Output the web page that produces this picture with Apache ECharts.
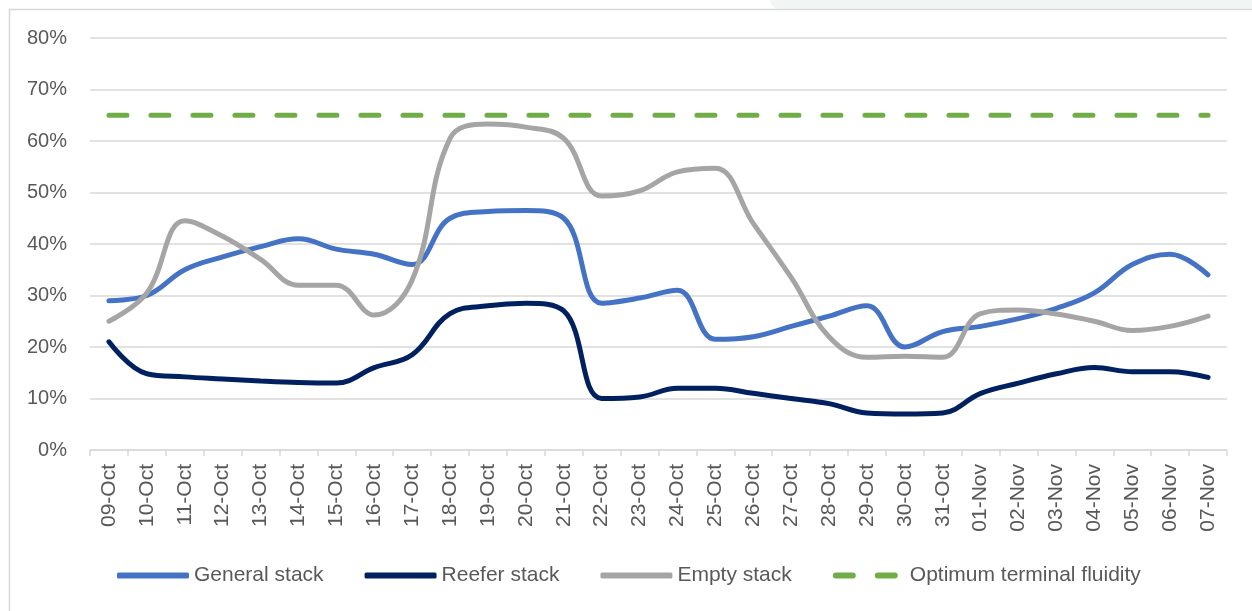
<!DOCTYPE html>
<html>
<head>
<meta charset="utf-8">
<script src="https://cdn.jsdelivr.net/npm/echarts@6/dist/echarts.min.js"></script>
<style>
  html, body { margin: 0; padding: 0; background: #fff; }
  #main { width: 1252px; height: 611px; }
</style>
</head>
<body>
<div id="main"></div>
<script>
const categories = ['09-Oct', '10-Oct', '11-Oct', '12-Oct', '13-Oct', '14-Oct', '15-Oct', '16-Oct', '17-Oct', '18-Oct',
  '19-Oct', '20-Oct', '21-Oct', '22-Oct', '23-Oct', '24-Oct', '25-Oct', '26-Oct', '27-Oct', '28-Oct',
  '29-Oct', '30-Oct', '31-Oct', '01-Nov', '02-Nov', '03-Nov', '04-Nov', '05-Nov', '06-Nov', '07-Nov']

// values in %
const generalStack = [29, 30, 35, 37.5, 39.5, 41, 39, 38, 36, 45,
  46.3, 46.5, 45, 28.5, 29.5, 31, 21.5, 22, 24, 26,
  28, 20, 23, 24, 25.5, 27.5, 30.5, 36, 38, 34]
const reeferStack = [21, 14.8, 14.2, 13.8, 13.4, 13.1, 13, 16, 18.5, 26.5,
  28, 28.5, 27, 10, 10.3, 12, 12, 11, 10, 9,
  7.2, 7, 7.2, 11, 13, 14.8, 16, 15.2, 15.2, 14.1]
const emptyStack = [25, 30.5, 44.5, 41.5, 37, 32, 32, 26.2, 33, 60.5,
  63.3, 62.7, 60.5, 49.3, 50.3, 54, 54.7, 44, 33.5, 22,
  18, 18.2, 18, 26.5, 27.2, 26.4, 25, 23.2, 24, 26]
const optimumFluidity = categories.map(() => 65)

const chart = echarts.init(document.getElementById('main'))

const labelFont = 'Liberation Sans, Arial, sans-serif'
const textColor = '#595959'
const gridColor = '#D9D9D9'

// two rounded dashes for the dashed legend entry (tiny rect at 72 keeps the box width)
const dashIcon = 'path://M3,0h17a3,3 0 0 1 0,6h-17a3,3 0 0 1 0,-6zM45,0h17a3,3 0 0 1 0,6h-17a3,3 0 0 1 0,-6zM72,0h0.01v6h-0.01z'

chart.setOption({
  animation: false,
  graphic: [{
    type: 'rect',
    shape: { x: 770, y: -10, width: 520, height: 19, r: 10 },
    style: { fill: '#F3F4F4' },
    silent: true
  }, {
    type: 'rect',
    shape: { x: 9.5, y: 9.5, width: 1300, height: 700 },
    style: { fill: 'none', stroke: gridColor, lineWidth: 1.5 },
    silent: true
  }],
  grid: {
    left: 90,
    right: 25,
    top: 38,
    bottom: 161
  },
  legend: {
    bottom: 20,
    left: 112,
    itemWidth: 72,
    itemHeight: 6,
    itemGap: 41,
    textStyle: {
      color: textColor,
      fontFamily: labelFont,
      fontSize: 21
    },
    data: [
      { name: 'General stack', icon: 'roundRect' },
      { name: 'Reefer stack', icon: 'roundRect' },
      { name: 'Empty stack', icon: 'roundRect' },
      { name: 'Optimum terminal fluidity', icon: dashIcon }
    ]
  },
  xAxis: {
    type: 'category',
    data: categories,
    boundaryGap: true,
    axisLine: { lineStyle: { color: gridColor, width: 1.5 } },
    axisTick: { show: true, length: 6, lineStyle: { color: gridColor, width: 1.5 } },
    axisLabel: {
      rotate: 90,
      interval: 0,
      margin: 14,
      color: textColor,
      fontFamily: labelFont,
      fontSize: 21
    }
  },
  yAxis: {
    type: 'value',
    min: 0,
    max: 80,
    interval: 10,
    axisLine: { show: false },
    axisTick: { show: false },
    splitLine: { lineStyle: { color: gridColor, width: 1.5 } },
    axisLabel: {
      formatter: '{value}%',
      margin: 23,
      color: textColor,
      fontFamily: labelFont,
      fontSize: 20
    }
  },
  series: [{
    name: 'General stack',
    type: 'line',
    data: generalStack,
    smooth: 0.4,
    symbol: 'none',
    lineStyle: { color: '#4472C4', width: 5, cap: 'round' },
    itemStyle: { color: '#4472C4' }
  }, {
    name: 'Reefer stack',
    type: 'line',
    data: reeferStack,
    smooth: 0.4,
    symbol: 'none',
    lineStyle: { color: '#002060', width: 5, cap: 'round' },
    itemStyle: { color: '#002060' }
  }, {
    name: 'Empty stack',
    type: 'line',
    data: emptyStack,
    smooth: 0.4,
    symbol: 'none',
    lineStyle: { color: '#A5A5A5', width: 5, cap: 'round' },
    itemStyle: { color: '#A5A5A5' }
  }, {
    name: 'Optimum terminal fluidity',
    type: 'line',
    data: optimumFluidity,
    symbol: 'none',
    lineStyle: { color: '#70AD47', width: 5, type: [18, 24], cap: 'round' },
    itemStyle: { color: '#70AD47' }
  }]
})
</script>
</body>
</html>
